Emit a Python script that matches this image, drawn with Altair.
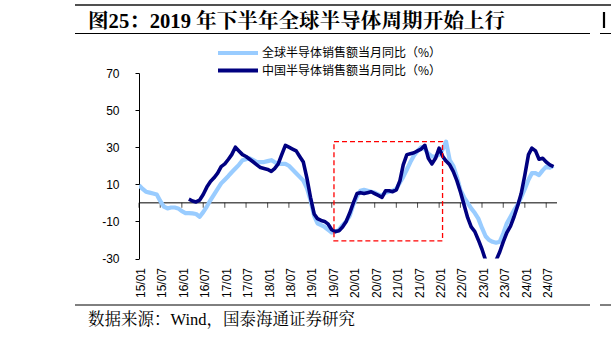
import altair as alt
import pandas as pd

TITLE = "图25：2019 年下半年全球半导体周期开始上行"
SOURCE = "数据来源：Wind，国泰海通证券研究"
SERIES = ["全球半导体销售额当月同比（%）", "中国半导体销售额当月同比（%）"]
COLORS = ["#99CCFF", "#000080"]
WIDTHS = [4.2, 3.6]

START = "2015-01-01"
GLOBAL = [
    9.5, 7.5, 6, 5.5, 5, 4.5, 1, -2, -3, -2.5, -2.5, -3,
    -4.5, -5.5, -5.5, -5.7, -6, -7.5, -5, -2, 1.5, 4.5, 7.5, 10.5,
    12.5, 14.5, 16.5, 18.5, 20.5, 23, 23.5, 24, 23, 22, 22, 22,
    22.5, 23, 22, 21, 21, 21, 20, 18, 16, 14, 12, 8,
    1.5, -7, -11, -12, -13, -14.5, -16, -15.5, -14.5, -12, -10, -7,
    -1, 3.5, 6.5, 7, 6.5, 6, 5.5, 4.5, 4, 5.5, 6, 6.5,
    7.5, 11, 14, 18, 22, 25.5, 28, 30, 29, 26.5, 25, 25,
    26, 29, 33, 23, 20, 14, 7, 3, 0, -3, -5.5, -8.5,
    -13.5, -18, -20, -21, -21.5, -21, -16.5, -11, -7.5, -4, -1, 3,
    7.5, 12.5, 16, 16, 15, 17.5, 19.5, 19, 20,
]
CHINA = [
    None, None, None, None, None, None, None, None, None, None, None, None,
    None, None, 2, 1, 0.5, 1.5, 4.5, 8.5, 11.5, 13.5, 16, 19.5,
    21, 23.5, 26, 30, 28, 26, 25, 23.5, 22, 20.5, 19, 18.5,
    18, 17, 18.5, 21, 26, 31, 30, 29, 28, 25, 22, 13.5,
    3, -6, -8.5, -9.5, -10, -11.5, -14.5, -15.5, -15, -13, -10, -5.5,
    0, 5, 5.5, 5, 5.5, 6, 5, 4, 3, 6.5, 6.5, 6,
    7, 12, 20.5, 26, 26.5, 27, 28, 29, 31, 24, 21, 24,
    29.5, 25, 22.5, 20.5, 17, 12, 6, -1, -8, -13, -15.5, -20,
    -25, -31, -34, -35, -31, -26.5, -21, -16, -12.5, -7.5, -1.5, 5,
    15, 26, 29.5, 28, 23.5, 24, 22, 20.5, 19.5,
]
X_LABELS = ["15/01", "15/07", "16/01", "16/07", "17/01", "17/07", "18/01",
            "18/07", "19/01", "19/07", "20/01", "20/07", "21/01", "21/07",
            "22/01", "22/07", "23/01", "23/07", "24/01", "24/07"]
Y_TICKS = [-30, -10, 10, 30, 50, 70]
Y_DOMAIN = [-30, 70]
X_END = "2024-10-01"
BOX_START = ["2019-07-20"]
BOX_END = ["2022-01-30"]
BOX_TOP = [33]
BOX_BOTTOM = [-20.5]

# ---- geometry of the page (pixels) ----
W, H = 418, 185.5
PL, PT = 139, 73
PR, PB = 611 - PL - W, 337 - PT - H

months = pd.date_range(START, periods=len(GLOBAL), freq="MS").strftime("%Y-%m-%d")
rows = []
for name, vals in zip(SERIES, [GLOBAL, CHINA]):
    for d, v in zip(months, vals):
        if v is not None:
            rows.append({"date": d, "value": v, "series": name})
df = pd.DataFrame(rows)

tick_dates = ["20" + s[:2] + "-" + s[3:] + "-01" for s in X_LABELS]
ticks_df = pd.DataFrame({"date": tick_dates, "v": [0] * len(tick_dates)})


def dt(s):
    y, m, d = (int(p) for p in s.split("-"))
    return alt.DateTime(year=y, month=m, date=d, utc=True)


xscale = alt.Scale(type="utc", domain=[dt(START), dt(X_END)])
yscale = alt.Scale(domain=Y_DOMAIN, nice=False, zero=False)
xaxis = alt.Axis(
    values=[dt(s) for s in tick_dates], format="%y/%m", labelAngle=270,
    labelAlign="right", labelBaseline="middle", domain=False, ticks=False,
    tickSize=0, grid=False, labelPadding=9, labelOffset=1.5, title=None,
    labelFont="Liberation Sans", labelFontSize=12, labelColor="black",
    labelFlush=False, labelOverlap=False,
)
yaxis = alt.Axis(
    values=Y_TICKS, grid=False, domainColor="black", tickColor="black",
    tickSize=4, labelPadding=16, title=None, labelFont="Liberation Sans",
    labelFontSize=12, labelColor="black", labelFlush=False,
    labelExpr="'' + datum.value",
)


def X(f):
    return alt.X(f, scale=xscale, axis=xaxis)


def Y(f):
    return alt.Y(f, scale=yscale, axis=yaxis)


layers = []

# zero line and ticks on it
layers.append(
    alt.Chart(pd.DataFrame({"v": [0]})).mark_rule(color="black", strokeWidth=1)
    .encode(y=Y("v:Q"))
)
layers.append(
    alt.Chart(ticks_df).mark_tick(orient="vertical", size=5, thickness=1,
                                  yOffset=2.5, color="black")
    .encode(x=X("date:T"), y=Y("v:Q"))
)

# series lines
for name, color, w in zip(SERIES, COLORS, WIDTHS):
    layers.append(
        alt.Chart(df).transform_filter(alt.datum.series == name)
        .mark_line(color=color, strokeWidth=w, clip=True, strokeJoin="round")
        .encode(x=X("date:T"), y=Y("value:Q"))
    )

# red dashed box
box_df = pd.DataFrame({"x": BOX_START, "x2": BOX_END, "y": BOX_TOP, "y2": BOX_BOTTOM})
layers.append(
    alt.Chart(box_df).mark_rect(fill="white", fillOpacity=0, stroke="#FF0000",
                                strokeWidth=1.3, strokeDash=[5, 3])
    .encode(x=X("x:T"), x2="x2:T", y=Y("y:Q"), y2="y2:Q")
)

# legend (manual)
for i, (name, color) in enumerate(zip(SERIES, COLORS)):
    yy = 53 + i * 17.5 - PT
    ldf = pd.DataFrame({"t": [name]})
    layers.append(
        alt.Chart(ldf).mark_rule(color=color, strokeWidth=4)
        .encode(x=alt.value(218 - PL), x2=alt.value(258 - PL), y=alt.value(yy))
    )
    layers.append(
        alt.Chart(ldf).mark_text(align="left", baseline="middle", fontSize=12,
                                 font="Noto Sans CJK SC", color="black")
        .encode(text="t:N", x=alt.value(262 - PL), y=alt.value(yy))
    )

# page decorations: rules
hlines = [
    (75, 611, 5, 2.2, "#505050"),
    (75, 590, 33.5, 1, "black"),
    (600, 611, 33.5, 1, "black"),
    (75, 590, 305, 1, "black"),
    (600, 611, 305, 1, "black"),
]
for x1, x2, yy, sw, col in hlines:
    layers.append(
        alt.Chart(pd.DataFrame({"k": [0]})).mark_rule(color=col, strokeWidth=sw)
        .encode(x=alt.value(x1 - PL), x2=alt.value(x2 - PL), y=alt.value(yy - PT))
    )
# edge of the neighbouring panel's title glyph
layers.append(
    alt.Chart(pd.DataFrame({"k": [0]})).mark_rule(color="black", strokeWidth=2.2)
    .encode(x=alt.value(604 - PL), y=alt.value(12 - PT), y2=alt.value(28 - PT))
)

# title and source text
texts = [
    (TITLE, 88, 27.5, 20.6, "bold"),
    (SOURCE, 88, 325, 16.5, "normal"),
]
for t, x, yy, fs, fw in texts:
    layers.append(
        alt.Chart(pd.DataFrame({"t": [t]})).mark_text(
            align="left", baseline="alphabetic", fontSize=fs, fontWeight=fw,
            font="Liberation Serif, Noto Serif CJK SC, Noto Sans CJK SC",
            color="black")
        .encode(text="t:N", x=alt.value(x - PL), y=alt.value(yy - PT))
    )

chart = (
    alt.layer(*layers)
    .properties(width=W, height=H,
                padding={"left": PL, "top": PT, "right": PR, "bottom": PB},
                autosize=alt.AutoSizeParams(type="none"), background="white")
    .configure_view(strokeWidth=0)
)

chart.save("out.html", embed_options={"renderer": "svg", "actions": False})
